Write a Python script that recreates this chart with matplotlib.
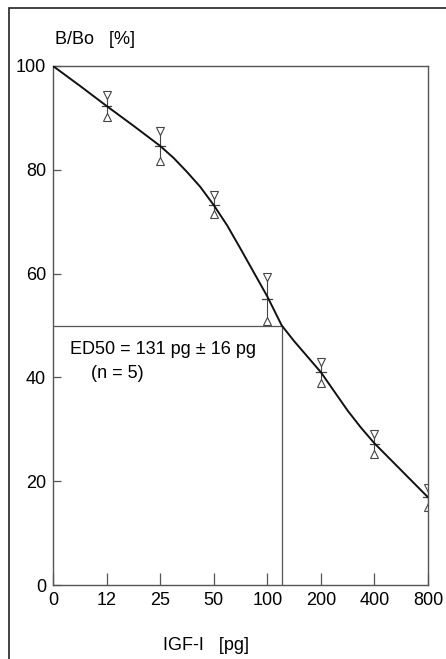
import numpy as np
import matplotlib.pyplot as plt
from matplotlib.patches import Rectangle

plt.rcParams['font.family'] = ['Liberation Sans', 'DejaVu Sans']

# doses and measured binding (mean, sd)
doses = ['0', '12', '25', '50', '100', '200', '400', '800']
pt_pos = [1, 2, 3, 4, 5, 6, 7]
pt_mean = [92.3, 84.6, 73.3, 55.1, 41.0, 27.1, 16.9]
pt_err = [2.6, 3.4, 2.3, 4.7, 2.5, 2.4, 2.3]

# fitted curve
curve_x = [0, 0.5, 1, 1.5, 2, 2.25, 2.5, 2.75, 3, 3.25, 3.5, 3.75, 4, 4.27, 4.5, 4.75,
           5, 5.25, 5.5, 5.75, 6, 6.5, 7]
curve_y = [100, 96.2, 92.3, 88.5, 84.6, 82.3, 79.6, 76.7, 73.2, 69.3, 64.8, 60.2, 55.6, 50,
           47.0, 44.0, 41.0, 37.3, 33.6, 30.3, 27.3, 22.1, 16.9]

ed50_pos = 4.27
ed50_level = 50

W, H = 446, 659
fig = plt.figure(figsize=(W / 100, H / 100), dpi=100)

# outer frame of the scanned figure
fig.patches.append(Rectangle((9 / W, -0.05), 1.2, (H - 8) / H + 0.05, transform=fig.transFigure,
                             fill=False, ec='#222222', lw=1.2))

ax = fig.add_axes([53 / W, 74 / H, 375 / W, 519 / H])
ax.set_xlim(0, 7)
ax.set_ylim(0, 100)
for s in ax.spines.values():
    s.set_color('#555555')
    s.set_linewidth(1.0)

ax.set_xticks(range(len(doses)))
ax.set_xticklabels(doses)
ax.tick_params(axis='x', direction='in', length=8.5, width=0.9, color='#555555', pad=5, labelsize=13)
ax.set_yticks([0, 20, 40, 60, 80, 100])
ax.tick_params(axis='y', direction='in', length=5.5, width=0.9, color='#555555', pad=5, labelsize=13)
ax.set_yticks([0, 100], minor=True)
ax.tick_params(axis='y', which='minor', direction='out', length=3, width=0.9, color='#555555')

# ED50 guide lines
ax.plot([0, ed50_pos], [ed50_level, ed50_level], color='#555555', lw=0.9)
ax.plot([ed50_pos, ed50_pos], [0, ed50_level], color='#555555', lw=0.9)

ax.plot(curve_x, curve_y, color='#111111', lw=1.4, zorder=3, solid_joinstyle='round')

for x, m, e in zip(pt_pos, pt_mean, pt_err):
    ax.plot([x, x], [m - e, m + e], color='#444444', lw=0.8)
    ax.plot([x - 0.09, x + 0.09], [m, m], color='#444444', lw=0.9)
    ax.plot([x], [m + e - 0.5], marker='v', ms=5.5, mfc='white', mec='#444444', mew=0.8)
    ax.plot([x], [m - e + 0.5], marker='^', ms=5.5, mfc='white', mec='#444444', mew=0.8)

fig.text(55 / W, 1 - 40 / H, 'B/Bo   [%]', fontsize=13, va='center', ha='left')
fig.text(206 / W, 1 - 645 / H, 'IGF-I   [pg]', fontsize=13, va='center', ha='center')
fig.text(70 / W, 1 - 349 / H, 'ED50 = 131 pg \u00b1 16 pg', fontsize=13, va='center', ha='left')
fig.text(91 / W, 1 - 373 / H, '(n = 5)', fontsize=13, va='center', ha='left')

fig.savefig('out.png', dpi=100)
